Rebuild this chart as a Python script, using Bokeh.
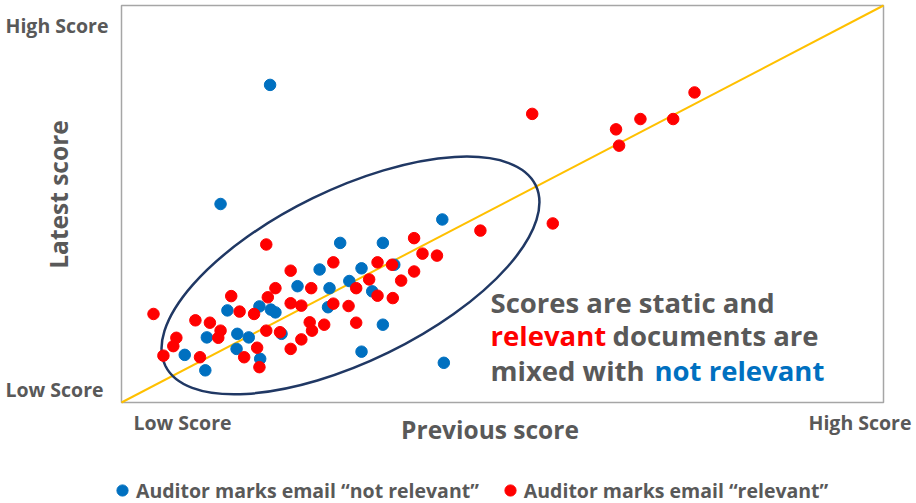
import math
from bokeh.plotting import figure
from bokeh.models import Range1d, Label, Legend, LegendItem
from bokeh.embed import file_html
from bokeh.resources import INLINE

# ---- data (0 = Low Score, 100 = High Score) ----
not_rel_prev = [19.5, 13.0, 42.1, 34.3, 28.7, 35.8, 31.5, 26.0, 29.9, 23.1, 27.3, 32.9, 27.1, 34.3,
                31.5, 42.3, 13.9, 18.1, 19.6, 20.2, 15.2, 16.7, 11.2, 21.0, 15.1, 8.3, 18.2, 11.0]
not_rel_latest = [80.0, 50.0, 46.1, 40.2, 40.2, 34.7, 33.8, 33.5, 30.6, 29.3, 28.8, 28.0, 24.0, 19.6,
                  12.8, 10.0, 23.2, 24.2, 23.4, 22.7, 17.3, 16.4, 16.4, 17.3, 13.5, 12.0, 11.0, 8.1]

rel_prev = [75.2, 53.9, 68.1, 72.4, 64.9, 65.3, 56.6, 47.1, 38.4, 39.5, 41.4, 27.8, 33.6, 35.5,
            38.4, 36.7, 32.5, 24.9, 30.8, 22.2, 33.6, 35.6, 22.2, 23.6, 27.8, 29.8, 24.7, 25.0,
            26.6, 30.8, 23.6, 22.2, 19.0, 20.2, 14.4, 19.2, 15.5, 17.4, 4.2, 9.7, 11.6, 13.0,
            12.7, 19.0, 20.8, 7.2, 6.8, 17.8, 5.5, 10.3, 16.1, 18.1]
rel_latest = [78.1, 72.7, 71.4, 71.4, 68.8, 64.7, 45.1, 43.3, 41.4, 37.5, 37.0, 35.3, 35.3, 34.7,
              33.0, 30.7, 31.0, 28.8, 28.8, 33.2, 26.9, 26.3, 25.0, 24.4, 24.9, 24.3, 20.2, 18.1,
              19.6, 20.1, 15.9, 13.5, 39.8, 28.8, 26.8, 26.5, 22.9, 22.3, 22.3, 20.7, 20.1, 18.1,
              16.3, 18.1, 17.7, 16.3, 14.2, 13.8, 11.8, 11.4, 11.4, 8.9]

axis_min = [0, 0]        # Low Score corner
axis_max = [100, 100]    # High Score corner

low_label = "Low Score"
high_label = "High Score"
x_title = "Previous score"
y_title = "Latest score"
legend_labels = ["Auditor marks email \u201cnot relevant\u201d", "Auditor marks email \u201crelevant\u201d"]

BLUE = "#0070C0"
RED = "#FF0000"
GREY = "#595959"
FONT = "Open Sans"

W, H = 916, 503
BOX_L, BOX_R = 121, 883        # canvas px of the score box
BOX_T, BOX_B = 5, 402
KX = (BOX_R - BOX_L) / 100.0
KY = (BOX_B - BOX_T) / 100.0


def X(px):
    return (px - BOX_L) / KX


def Y(py):
    return (BOX_B - py) / KY


p = figure(width=W, height=H, output_backend="svg", toolbar_location=None,
           x_range=Range1d(X(0), X(W)), y_range=Range1d(Y(H), Y(0)),
           min_border=0)
p.axis.visible = False
p.grid.visible = False
p.outline_line_color = None
p.background_fill_color = "white"
p.border_fill_color = "white"

# score box
p.quad(left=[axis_min[0]], right=[axis_max[0]], bottom=[axis_min[1]], top=[axis_max[1]],
       fill_alpha=0, line_color="#A6A6A6", line_width=1.5)

# diagonal: latest == previous
p.line([axis_min[0], axis_max[0]], [axis_min[1], axis_max[1]], line_color="#FFC000", line_width=2)

# highlight ellipse around the mixed cluster
p.ellipse(x=[30.05], y=[32.0], width=[412], height=[172], width_units="screen",
          height_units="screen", angle=26, angle_units="deg",
          fill_alpha=0, line_color="#203864", line_width=2.5)

r_blue = p.scatter(not_rel_prev, not_rel_latest, size=11.5, fill_color=BLUE, line_color=BLUE)
r_red = p.scatter(rel_prev, rel_latest, size=11.5, fill_color=RED, line_color=RED)

BASE_SHIFT = 0.37  # rendered baseline sits this many em below the anchor


def lab(text, px, py_base, size, color=GREY, align="left", angle=0.0):
    if angle:
        x, y = X(px - BASE_SHIFT * size), Y(py_base)
    else:
        x, y = X(px), Y(py_base - BASE_SHIFT * size)
    p.add_layout(Label(x=x, y=y, text=text, text_font=FONT, text_font_style="bold",
                       text_font_size=f"{size}px", text_color=color, text_align=align,
                       text_baseline="alphabetic", angle=angle))


lab(high_label, 5, 32, 19.5)
lab(low_label, 5, 396, 19.5)
lab(low_label, 133, 429, 19.5)
lab(high_label, 808, 429, 19.5)
lab(x_title, 489.5, 438, 24.5, align="center")
lab(y_title, 67, 194, 24.5, align="center", angle=math.pi / 2)

# annotation
lab("Scores are static and", 490, 311.7, 27.5)
lab("relevant", 490, 345, 27.5, color=RED)
lab("documents are", 612, 345, 27.5)
lab("mixed with", 490, 380, 27.5)
lab("not relevant", 654, 380, 27.5, color=BLUE)

GL = 28
legend = Legend(items=[LegendItem(label=legend_labels[0], renderers=[r_blue]),
                       LegendItem(label=legend_labels[1], renderers=[r_red])],
                orientation="horizontal",
                location=(122 - GL / 2, H - (490 + GL / 2)),
                glyph_width=GL, glyph_height=GL, label_standoff=-4, spacing=17,
                padding=0, margin=0, border_line_alpha=0, background_fill_alpha=0,
                label_text_font=FONT, label_text_font_style="bold",
                label_text_font_size="19.5px", label_text_color=GREY)
p.add_layout(legend, "center")

open("out.html", "w").write(file_html(p, INLINE))
